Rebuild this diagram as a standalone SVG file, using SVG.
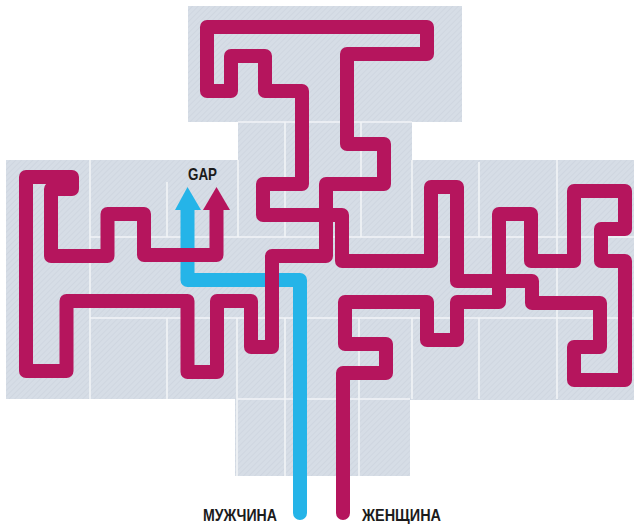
<svg xmlns="http://www.w3.org/2000/svg" width="635" height="524" viewBox="0 0 635 524">
<defs>
<style>
.grid{stroke:#f2f4f7;stroke-width:1.6;fill:none}
.her{fill:none;stroke:#b5155d;stroke-width:14;stroke-linejoin:round;stroke-linecap:round}
.him{fill:none;stroke:#25b4e8;stroke-width:14;stroke-linejoin:round;stroke-linecap:round}
.lbl{font-family:"Liberation Sans",Arial,sans-serif;font-weight:bold;fill:#1b1b1b}
</style>
<pattern id="hatch" width="4" height="4" patternUnits="userSpaceOnUse" patternTransform="rotate(45)">
<rect width="4" height="4" fill="#d6dde6"/>
<line x1="0" y1="0" x2="0" y2="4" stroke="#ccd4de" stroke-width="1.4"/>
</pattern>
</defs>
<rect width="635" height="524" fill="#ffffff"/>
<g id="tiles">
<path d="M188,6 H462 V122 H412 V160 H634 V400 H410 V476 H235 V399 H6 V160 H238 V122 H188 Z" fill="url(#hatch)"/>
<path class="grid" d="M238,122 H412 M90,237 H634 M90,318 H634 M237,399 H410 M90,160 V399 M167,182 V237 M167,318 V399 M238,160 V237 M237,318 V476 M285,122 V237 M285,318 V476 M361,122 V237 M359,318 V476 M412,160 V237 M412,318 V399 M479,162 V237 M479,318 V399 M557,160 V399"/>
</g>
<g id="connectors">
<g id="man-route">
<path class="him" d="M300,513 V280 H187.5 V206"/>
<polygon points="175,210 187.5,187 201,210" fill="#25b4e8"/>
</g>
<g id="woman-route">
<path class="her" d="M216.5,206 V255 H144 V214 H107.5 V256 H51 V189 H72 V177 H26 V371 H66.5 V301 H187.5 V372 H217 V301 H251 V347 H272 V256 H326 V184 H384 V144 H347 V54 H427 V27 H207 V91 H231 V56 H265 V91 H302 V184 H263 V215 H342 V261 H431 V187 H457 V281 H532 V303 H600 V347 H574 V380 H625 V261 H601 V229 H625 V191 H574 V261 H531 V214 H499 V302 H457 V340 H427 V302 H345 V344 H386 V373 H343 V513"/>
<polygon points="203,210 216.5,187 230,210" fill="#b5155d"/>
</g>
</g>
<g id="label-gap"><text class="lbl" x="188" y="180" font-size="16.5" textLength="29" lengthAdjust="spacingAndGlyphs">GAP</text></g>
<g id="label-man"><text class="lbl" x="203" y="521" font-size="17" textLength="74" lengthAdjust="spacingAndGlyphs">МУЖЧИНА</text></g>
<g id="label-woman"><text class="lbl" x="362" y="521" font-size="17" textLength="79" lengthAdjust="spacingAndGlyphs">ЖЕНЩИНА</text></g>
</svg>
